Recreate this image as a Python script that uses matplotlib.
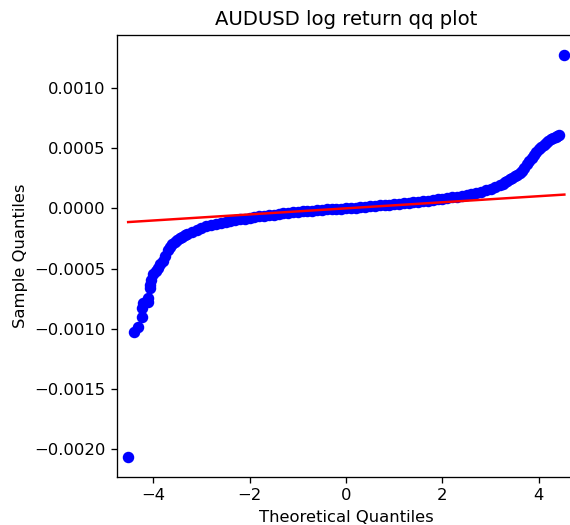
import matplotlib
matplotlib.use("Agg")
import matplotlib.pyplot as plt

# Theoretical (normal) quantiles and the matching sample quantiles of AUDUSD log returns
theoretical_q = [
    -4.52, -4.39, -4.31, -4.24, -4.23, -4.21, -4.11, -4.10, -4.07, -4.07, -4.05, -4.00, -3.94,
    -3.90, -3.85, -3.80, -3.75, -3.70, -3.65, -3.60, -3.55, -3.50, -3.45, -3.40, -3.35, -3.30,
    -3.20, -3.10, -3.00, -2.90, -2.80, -2.70, -2.60, -2.50, -2.40, -2.30, -2.20, -2.10, -2.00,
    -1.90, -1.80, -1.70, -1.60, -1.50, -1.40, -1.30, -1.20, -1.10, -1.00, -0.90, -0.80, -0.70,
    -0.60, -0.50, -0.40, -0.30, -0.20, -0.10, 0.00, 0.10, 0.20, 0.30, 0.40, 0.50, 0.60, 0.70,
    0.80, 0.90, 1.00, 1.10, 1.20, 1.30, 1.40, 1.50, 1.60, 1.70, 1.80, 1.90, 2.00, 2.10, 2.20,
    2.30, 2.40, 2.50, 2.60, 2.70, 2.80, 2.90, 3.00, 3.10, 3.20, 3.25, 3.30, 3.35, 3.40, 3.45,
    3.50, 3.55, 3.60, 3.65, 3.70, 3.75, 3.80, 3.85, 3.90, 3.95, 4.00, 4.05, 4.10, 4.15, 4.20,
    4.25, 4.30, 4.35, 4.38, 4.41, 4.53,
]
sample_q = [
    -20.60, -10.23, -9.82, -8.99, -8.29, -7.88, -7.74, -7.44, -6.63, -6.36, -5.95, -5.45, -5.20,
    -4.95, -4.65, -4.35, -3.95, -3.50, -3.20, -2.98, -2.80, -2.64, -2.50, -2.36, -2.24, -2.12,
    -1.93, -1.76, -1.60, -1.47, -1.36, -1.27, -1.19, -1.12, -1.05, -0.98, -0.92, -0.85, -0.79,
    -0.73, -0.68, -0.62, -0.57, -0.52, -0.47, -0.43, -0.38, -0.33, -0.28, -0.25, -0.22, -0.19,
    -0.16, -0.13, -0.10, -0.07, -0.05, -0.02, 0.00, 0.03, 0.06, 0.09, 0.13, 0.17, 0.21, 0.25,
    0.28, 0.31, 0.35, 0.38, 0.42, 0.46, 0.50, 0.54, 0.58, 0.63, 0.68, 0.73, 0.78, 0.84, 0.90,
    0.97, 1.04, 1.12, 1.20, 1.29, 1.39, 1.50, 1.62, 1.76, 1.94, 2.05, 2.15, 2.27, 2.40, 2.52,
    2.64, 2.76, 2.90, 3.12, 3.38, 3.65, 3.90, 4.15, 4.40, 4.65, 4.88, 5.08, 5.25, 5.42, 5.58,
    5.72, 5.85, 5.95, 6.00, 6.10, 12.71,
]
sample_scale = 1e-4  # sample quantiles above are listed in units of 1e-4

# Reference line fitted through the quantiles
line_slope = 2.52e-5
line_intercept = -4e-7

y_ticks = [-0.0020, -0.0015, -0.0010, -0.0005, 0.0000, 0.0005, 0.0010]
x_ticks = [-4, -2, 0, 2, 4]

DPI = 118
fig = plt.figure(figsize=(570 / DPI, 525 / DPI), dpi=DPI)
ax = fig.add_axes([0.2058, 0.0920, 0.8025, 0.8413])

sample_vals = [v * sample_scale for v in sample_q]
ax.plot(theoretical_q, sample_vals, linestyle="none", marker="o",
        markerfacecolor="b", markeredgecolor="b", markersize=6)

x_end = [min(theoretical_q), max(theoretical_q)]
ax.plot(x_end, [line_slope * x + line_intercept for x in x_end], "r-", lw=1.5)

ax.set_xlim(-4.745, 4.745)
ax.set_ylim(-0.002226, 0.001437)
ax.set_xticks(x_ticks)
ax.set_yticks(y_ticks)
ax.set_yticklabels([f"{t:.4f}".replace("-", "\u2212") for t in y_ticks])
ax.spines["right"].set_visible(False)

ax.set_xlabel("Theoretical Quantiles")
ax.set_ylabel("Sample Quantiles")
ax.set_title("AUDUSD log return qq plot")

fig.savefig("out.png", dpi=DPI)
